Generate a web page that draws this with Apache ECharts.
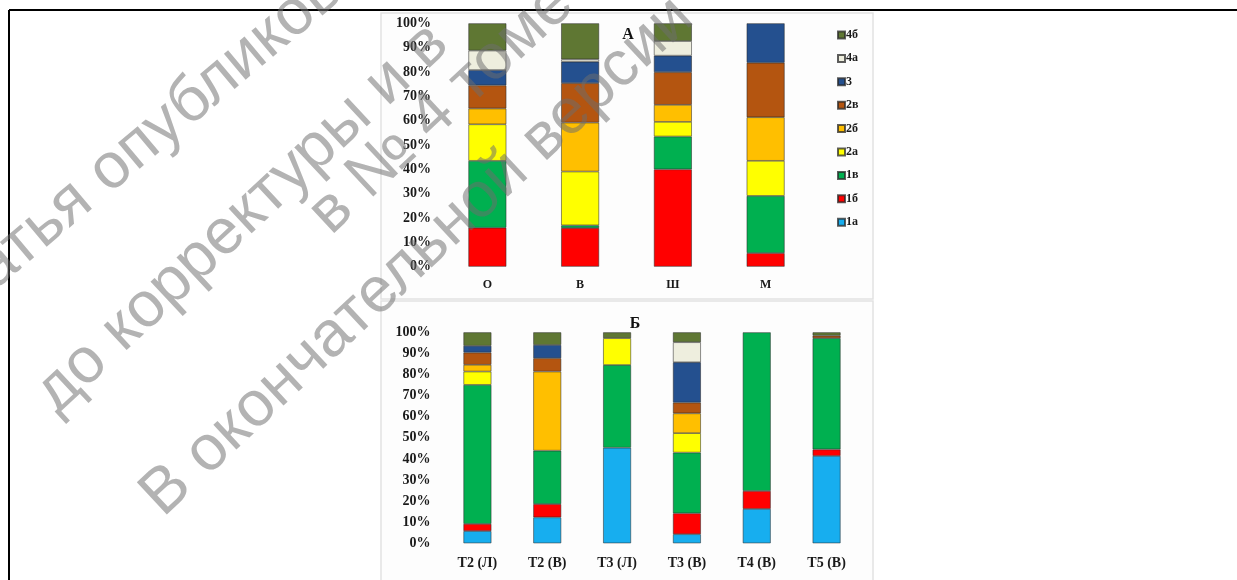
<!DOCTYPE html>
<html>
<head>
<meta charset="utf-8">
<script src="https://cdn.jsdelivr.net/npm/echarts@6/dist/echarts.min.js"></script>
<style>
  html, body { margin: 0; padding: 0; background: #ffffff; }
  #chart { width: 1237px; height: 580px; }
</style>
</head>
<body>
<div id="chart"></div>
<script>
// Fraction types, bottom of the stack first
const types = ['1а', '1б', '1в', '2а', '2б', '2в', '3', '4а', '4б'];
const typeColors = ['#17aeef', '#ff0000', '#00b050', '#ffff00', '#ffbf00', '#b45510', '#24508f', '#eeeede', '#5f7733'];

// Panel А: sites
const groupsA = ['О', 'В', 'Ш', 'М'];
const a_1a = [0, 0, 0, 0];
const a_1b = [16, 15.9, 40, 5.6];
const a_1v = [27.5, 1.1, 13.5, 23.5];
const a_2a = [15, 22.1, 6, 14.4];
const a_2b = [6.5, 20.1, 7, 17.9];
const a_2v = [9.5, 16.2, 13.4, 22.4];
const a_3 = [6.3, 8.8, 6.8, 16.2];
const a_4a = [8, 1, 6, 0];
const a_4b = [11.2, 14.8, 7.3, 0];

// Panel Б: transects
const groupsB = ['Т2 (Л)', 'Т2 (В)', 'Т3 (Л)', 'Т3 (В)', 'Т4 (В)', 'Т5 (В)'];
const b_1a = [5.8, 12.3, 45.3, 4.3, 16.3, 41.4];
const b_1b = [3.4, 6.3, 0, 9.9, 8.5, 3.1];
const b_1v = [65.9, 25.3, 39.2, 28.8, 75.2, 52.7];
const b_2a = [6.3, 0, 12.7, 9.2, 0, 0];
const b_2b = [3.2, 37.5, 0, 9.4, 0, 0];
const b_2v = [5.8, 6.3, 0, 5.1, 0, 1.2];
const b_3 = [3.2, 6.3, 0, 19.1, 0, 0];
const b_4a = [0, 0, 0, 9.5, 0, 0];
const b_4b = [6.4, 6, 2.8, 4.7, 0, 1.6];

const yTicks = ['0%', '10%', '20%', '30%', '40%', '50%', '60%', '70%', '80%', '90%', '100%'];
const legendOrder = ['4б', '4а', '3', '2в', '2б', '2а', '1в', '1б', '1а'];

const seriesA = [a_1a, a_1b, a_1v, a_2a, a_2b, a_2v, a_3, a_4a, a_4b];
const seriesB = [b_1a, b_1b, b_1v, b_2a, b_2b, b_2v, b_3, b_4a, b_4b];

const serif = "'Liberation Serif', 'Times New Roman', serif";
const sans = "'Liberation Sans', Arial, sans-serif";

// empty segments are skipped so that they leave no outline
const clean = arr => arr.map(v => (v > 0 ? v : '-'));

function makeSeries(values, idx, panel) {
  return {
    name: types[idx],
    type: 'bar',
    stack: panel === 0 ? 'A' : 'B',
    xAxisIndex: panel,
    yAxisIndex: panel,
    barWidth: panel === 0 ? 38 : 28,
    data: clean(values),
    itemStyle: {
      color: typeColors[idx],
      borderColor: 'rgba(40,40,40,0.75)',
      borderWidth: 0.7
    },
    emphasis: { disabled: true }
  };
}

const series = [];
seriesA.forEach((v, i) => series.push(makeSeries(v, i, 0)));
seriesB.forEach((v, i) => series.push(makeSeries(v, i, 1)));

const yAxisBase = (gridIndex, font, margin) => ({
  type: 'value',
  gridIndex: gridIndex,
  min: 0,
  max: 100,
  interval: 10,
  axisLine: { show: false },
  axisTick: { show: false },
  splitLine: { show: false },
  axisLabel: {
    formatter: v => yTicks[Math.round(v / 10)],
    fontFamily: serif,
    fontWeight: 'bold',
    fontSize: font,
    color: '#1a1a1a',
    margin: margin
  }
});

const xAxisBase = (gridIndex, cats, font, margin) => ({
  type: 'category',
  gridIndex: gridIndex,
  data: cats,
  axisLine: { show: false },
  axisTick: { show: false },
  axisLabel: {
    fontFamily: serif,
    fontWeight: 'bold',
    fontSize: font,
    color: '#1a1a1a',
    margin: margin
  }
});

// diagonal grey overprint
const deg = Math.PI / 180;
const stampLines = [
  { text: 'Статья опубликована', x: -74, y: 325, rot: 40 },
  { text: 'до корректуры и в', x: 45, y: 402, rot: 43 },
  { text: 'в № 4 томе', x: 319, y: 223, rot: 43 },
  { text: 'В окончательной версии', x: 151, y: 505, rot: 43 }
];

const graphics = [
  // picture panels
  { type: 'rect', z: -10, shape: { x: 381, y: 13, width: 492, height: 286 },
    style: { fill: '#fdfdfd', stroke: '#e2e2e2', lineWidth: 1.5 } },
  { type: 'rect', z: -10, shape: { x: 381, y: 301, width: 492, height: 285 },
    style: { fill: '#fdfdfd', stroke: '#e2e2e2', lineWidth: 1.5 } },
  // page frame
  { type: 'line', z: 50, shape: { x1: 9, y1: 10, x2: 1237, y2: 10 },
    style: { stroke: '#000', lineWidth: 2 } },
  { type: 'line', z: 50, shape: { x1: 9, y1: 10, x2: 9, y2: 580 },
    style: { stroke: '#000', lineWidth: 2 } },
  // panel letters
  { type: 'text', z: 60, x: 628, y: 35,
    style: { text: 'А', font: 'bold 16px ' + serif, fill: '#111', align: 'center', verticalAlign: 'middle' } },
  { type: 'text', z: 60, x: 635, y: 324,
    style: { text: 'Б', font: 'bold 16px ' + serif, fill: '#111', align: 'center', verticalAlign: 'middle' } }
];
stampLines.forEach(l => {
  graphics.push({
    type: 'text', z: 100, x: l.x, y: l.y, rotation: l.rot * deg,
    silent: true,
    style: {
      text: l.text,
      font: '64px ' + sans,
      fill: 'rgba(110,110,110,0.52)',
      align: 'left',
      verticalAlign: 'middle'
    }
  });
});

const chart = echarts.init(document.getElementById('chart'), null, { renderer: 'canvas' });
chart.setOption({
  animation: false,
  backgroundColor: '#ffffff',
  grid: [
    { left: 441, top: 23.3, width: 371, height: 243.4 },
    { left: 442.5, top: 332.3, width: 419, height: 211 }
  ],
  xAxis: [xAxisBase(0, groupsA, 12, 12), xAxisBase(1, groupsB, 14, 13)],
  yAxis: [yAxisBase(0, 14, 10), yAxisBase(1, 14, 12)],
  legend: {
    data: legendOrder,
    orient: 'vertical',
    left: 832,
    top: 24,
    itemWidth: 7,
    itemHeight: 7,
    itemGap: 11.4,
    selectedMode: false,
    icon: 'rect',
    textStyle: {
      fontFamily: serif,
      fontWeight: 'bold',
      fontSize: 12,
      lineHeight: 12,
      color: '#1a1a1a',
      padding: [0, 0, 0, -4]
    }
  },
  graphic: graphics,
  series: series
});
</script>
</body>
</html>
